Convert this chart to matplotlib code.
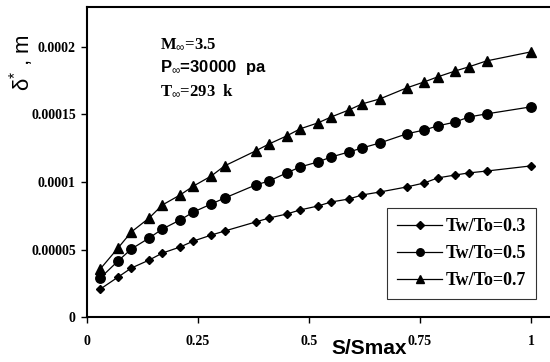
import matplotlib
matplotlib.use("Agg")
import matplotlib.pyplot as plt

plt.rcParams["mathtext.fontset"] = "custom"
plt.rcParams["mathtext.rm"] = "Liberation Sans"
plt.rcParams["mathtext.it"] = "Liberation Sans"

s = [0.03, 0.07, 0.10, 0.14, 0.17, 0.21, 0.24, 0.28, 0.31, 0.38, 0.41, 0.45, 0.48,
     0.52, 0.55, 0.59, 0.62, 0.66, 0.72, 0.76, 0.79, 0.83, 0.86, 0.90, 1.00]

tw03 = [2.07, 2.96, 3.63, 4.22, 4.74, 5.19, 5.63, 6.07, 6.37, 7.04, 7.33, 7.63, 7.93,
        8.22, 8.52, 8.74, 9.04, 9.26, 9.63, 9.93, 10.30, 10.52, 10.67, 10.81, 11.19]
tw05 = [2.89, 4.15, 5.04, 5.85, 6.52, 7.19, 7.78, 8.37, 8.81, 9.78, 10.07, 10.67, 11.11,
        11.48, 11.85, 12.22, 12.52, 12.89, 13.56, 13.85, 14.15, 14.44, 14.81, 15.04, 15.56]
tw07 = [3.56, 5.11, 6.30, 7.33, 8.30, 9.04, 9.70, 10.44, 11.19, 12.30, 12.81, 13.41, 13.93,
        14.37, 14.81, 15.33, 15.78, 16.15, 16.96, 17.41, 17.78, 18.22, 18.52, 18.96, 19.63]

scale = 1e-5
series = [
    ("Tw/To=0.3", tw03, "D", 4.5),
    ("Tw/To=0.5", tw05, "o", 6.8),
    ("Tw/To=0.7", tw07, "^", 7),
]

xticks = [0, 0.25, 0.5, 0.75, 1]
xticklabels = ["0", "0.25", "0.5", "0.75", "1"]
yticks = [0, 0.00005, 0.0001, 0.00015, 0.0002]
yticklabels = ["0", "0.00005", "0.0001", "0.00015", "0.0002"]

fig = plt.figure(figsize=(5.5, 3.62), dpi=100)
ax = fig.add_axes([0.158, 0.124, 0.842, 0.857])

for label, vals, m, ms in series:
    ax.plot(s, [v * scale for v in vals], color="black", lw=0.9, marker=m, ms=ms,
            mfc="black", mec="black", label=label)

ax.set_xlim(0, 1.043)
ax.set_ylim(0, 0.0002296)
ax.spines["right"].set_visible(False)
for sp in ["left", "top", "bottom"]:
    ax.spines[sp].set_linewidth(1.5)

serif = {"family": "Liberation Serif", "weight": "bold", "size": 10}
ax.set_xticks(xticks)
ax.set_xticklabels(xticklabels, fontdict=serif)
ax.set_yticks(yticks)
ax.set_yticklabels(yticklabels, fontdict=serif)
ax.tick_params(axis="x", direction="out", length=4, width=1, pad=9)
ax.tick_params(axis="y", direction="out", length=4, width=1, pad=4)
ax.tick_params(top=False, right=False)

fig.text(0.671, 0.036, "S/Smax", ha="center", va="center",
         family="Liberation Sans", weight="bold", size=15)
fig.text(0.04, 0.826, r"δ$^{*}$ , m", ha="center", va="center", rotation=90,
         family="Liberation Sans", size=16)

ax.text(0.165, 0.000199, r"M$_{\infty}$=3.5", family="Liberation Serif",
        weight="bold", size=12, va="baseline")
ax.text(0.165, 0.0001815, r"P$_{\infty}$=30000  pa", family="Liberation Sans",
        weight="bold", size=12, va="baseline")
ax.text(0.165, 0.0001644, r"T$_{\infty}$=293  k", family="Liberation Serif",
        weight="bold", size=12, va="baseline")

leg = ax.legend(loc="lower right", bbox_to_anchor=(0.970, 0.058), borderaxespad=0,
                prop={"family": "Liberation Serif", "weight": "bold", "size": 13},
                frameon=True, fancybox=False, edgecolor="black", handlelength=2.5,
                handletextpad=0.2, labelspacing=0.55, borderpad=0.55,
                markerscale=0.8)
leg.get_frame().set_linewidth(0.8)

fig.savefig("out.png", dpi=100)
